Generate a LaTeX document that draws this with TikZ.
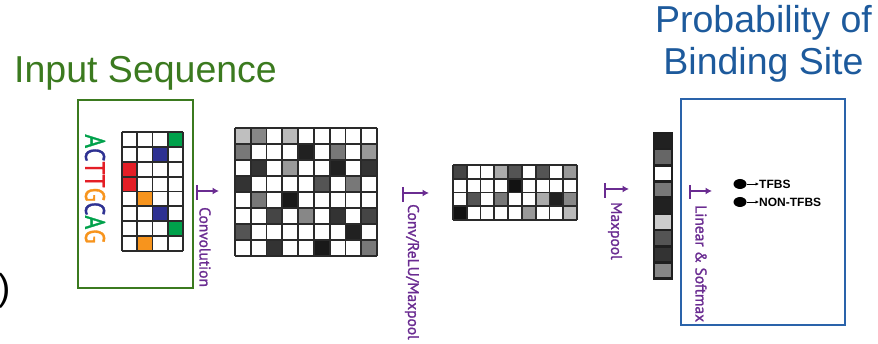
\documentclass[tikz,border=0pt]{standalone}
\usepackage{fontspec}
\usetikzlibrary{arrows.meta,shapes.geometric}
\newfontfamily\arialf{Liberation Sans}
\newfontfamily\ptsans{PT Sans}
\newfontfamily\ptsansm[FakeBold=1.3]{PT Sans}
\definecolor{ttlgreen}{HTML}{3B7A1F}
\definecolor{ttlblue}{HTML}{1D5A9C}
\definecolor{boxblue}{HTML}{2A63AA}
\definecolor{lblpurple}{HTML}{6A2C91}
\definecolor{nA}{HTML}{00A14B}
\definecolor{nC}{HTML}{2E3192}
\definecolor{nT}{HTML}{E41E26}
\definecolor{nG}{HTML}{F7941D}
\definecolor{gridline}{HTML}{2A2A2A}
\tikzset{
  title/.style={inner sep=0pt, font=\arialf\fontsize{37.5}{42}\selectfont},
  steplabel/.style={inner sep=0pt, rotate=-90, anchor=west, text=lblpurple, font=\ptsansm\fontsize{15.5}{18}\selectfont},
  stepbar/.style={draw=lblpurple, line width=1.6pt},
  steparrow/.style={draw=lblpurple, line width=1.6pt, -{Latex[length=6.5pt,width=7pt]}},
  cellgrid/.style={draw=gridline, line width=1.7pt},
  outdot/.style={ellipse, fill=black, minimum width=13pt, minimum height=10pt, inner sep=0pt},
  outlabel/.style={inner sep=0pt, anchor=west, font=\arialf\bfseries\fontsize{12}{14}\selectfont},
}
\begin{document}
\begin{tikzpicture}[x=1pt,y=-1pt]
\useasboundingbox (0,0) rectangle (878,344);

% titles
\node[title, text=ttlgreen, anchor=base west] (tin) at (14,83) {Input Sequence};
\node[title, text=ttlblue, anchor=base] (tp1) at (763.5,33) {Probability of};
\node[title, text=ttlblue, anchor=base] (tp2) at (763.5,75) {Binding Site};
\node[title, text=black, anchor=base east] (paren) at (10.5,301) {)};

% boxes
\node[draw=ttlgreen, line width=1.5pt, minimum width=115pt, minimum height=188pt, inner sep=0pt] (inbox) at (135.5,194) {};
\node[draw=boxblue, line width=1.5pt, minimum width=164pt, minimum height=226pt, inner sep=0pt] (outbox) at (763,212) {};

% sequence letters
\node[inner sep=0pt, rotate=-90, font=\ptsansm\fontsize{28}{30}\selectfont] (seq) at (95,189)
  {\scalebox{0.84}[1]{\textcolor{nA}{A}\textcolor{nC}{C}\textcolor{nT}{T}\textcolor{nT}{T}\textcolor{nG}{G}\textcolor{nC}{C}\textcolor{nA}{A}\textcolor{nG}{G}}};

% one-hot grid
\fill[nA] (167.9,132.3) rectangle ++(15.4,14.8);
\fill[nC] (152.5,147.1) rectangle ++(15.4,14.8);
\fill[nT] (121.7,161.9) rectangle ++(15.4,14.8);
\fill[nT] (121.7,176.7) rectangle ++(15.4,14.8);
\fill[nG] (137.1,191.5) rectangle ++(15.4,14.8);
\fill[nC] (152.5,206.3) rectangle ++(15.4,14.8);
\fill[nA] (167.9,221.1) rectangle ++(15.4,14.8);
\fill[nG] (137.1,235.9) rectangle ++(15.4,14.8);
\foreach \i in {0,...,4} \draw[cellgrid] ({121.7+\i*15.4},132.3) -- ++(0,118.4);
\foreach \j in {0,...,8} \draw[cellgrid] (121.7,{132.3+\j*14.8}) -- ++(61.6,0);

% big feature map 9x8
\foreach \row [count=\r] in {{25,47,0,27,0,0,0,0,0},{53,0,0,0,87,0,53,0,40},{0,80,0,40,0,0,87,0,80},{80,0,0,0,0,67,0,53,0},{0,53,0,90,0,0,0,0,0},{0,0,73,0,47,0,80,0,73},{67,0,0,0,0,0,0,87,0},{0,0,80,0,0,90,0,0,53}}{
  \foreach \v [count=\c] in \row {
    \fill[black!\v] ({235+(\c-1)*15.78},{128+(\r-1)*16}) rectangle ++(15.78,16);
  }
}
\foreach \i in {0,...,9} \draw[cellgrid] ({235+\i*15.78},128) -- ++(0,128);
\foreach \j in {0,...,8} \draw[cellgrid] (235,{128+\j*16}) -- ++(142,0);

% small feature map 9x4
\foreach \row [count=\r] in {{73,0,0,33,67,0,67,0,40},{0,0,0,0,93,0,0,0,0},{0,67,0,53,0,0,33,87,47},{93,0,0,0,0,40,0,0,27}}{
  \foreach \v [count=\c] in \row {
    \fill[black!\v] ({453+(\c-1)*13.78},{165+(\r-1)*13.75}) rectangle ++(13.78,13.75);
  }
}
\foreach \i in {0,...,9} \draw[cellgrid] ({453+\i*13.78},165) -- ++(0,55);
\foreach \j in {0,...,4} \draw[cellgrid] (453,{165+\j*13.75}) -- ++(124,0);

% pooled vector
\foreach \v [count=\r] in {87,60,0,53,87,20,67,80,47} {
  \fill[black!\v] (654,{133+(\r-1)*16.2}) rectangle ++(18,16.2);
}
\foreach \j in {0,...,9} \draw[draw=black!88, line width=2.6pt] (654,{133+\j*16.2}) -- ++(18,0);
\draw[draw=black!88, line width=2.6pt] (654,133) rectangle (672,279);

% step arrows and labels
\coordinate (b1a) at (197,185); \coordinate (b1b) at (197,200);
\coordinate (a1a) at (197,191); \coordinate (a1b) at (219,191);
\draw[stepbar] (b1a) -- (b1b); \draw[steparrow] (a1a) -- (a1b);
\node[steplabel] (l1) at (205,207) {Convolution};

\coordinate (b2a) at (403,187); \coordinate (b2b) at (403,202);
\coordinate (a2a) at (403,193); \coordinate (a2b) at (429,193);
\draw[stepbar] (b2a) -- (b2b); \draw[steparrow] (a2a) -- (a2b);
\node[steplabel] (l2) at (412,204) {Conv/ReLU/Maxpool};

\coordinate (b3a) at (605,183); \coordinate (b3b) at (605,198);
\coordinate (a3a) at (605,189); \coordinate (a3b) at (629,189);
\draw[stepbar] (b3a) -- (b3b); \draw[steparrow] (a3a) -- (a3b);
\node[steplabel] (l3) at (615,202) {Maxpool};

\coordinate (b4a) at (690,185); \coordinate (b4b) at (690,199);
\coordinate (a4a) at (690,191); \coordinate (a4b) at (712,191);
\draw[stepbar] (b4a) -- (b4b); \draw[steparrow] (a4a) -- (a4b);
\node[steplabel] (l4) at (701,205) {Linear \& Softmax};

% outputs
\node[outdot] (d1) at (740,184) {};
\node[outdot] (d2) at (740,202) {};
\node[outlabel] (t1) at (759,184) {TFBS};
\node[outlabel] (t2) at (759,202) {NON-TFBS};
\draw[line width=0.9pt, -{Latex[length=3.5pt,width=3.5pt]}] (d1) -- (t1.west);
\draw[line width=0.9pt, -{Latex[length=3.5pt,width=3.5pt]}] (d2) -- (t2.west);
\end{tikzpicture}
\end{document}
